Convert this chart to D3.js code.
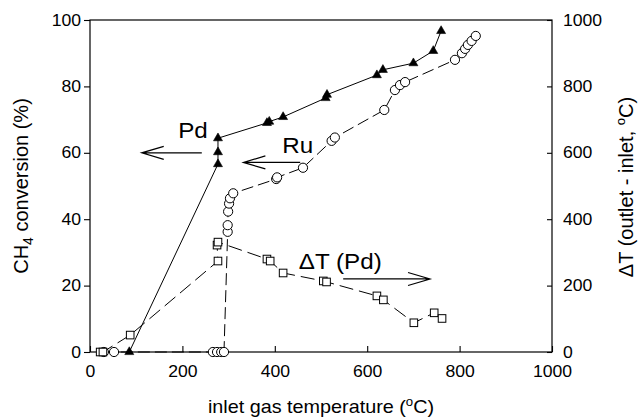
<!DOCTYPE html>
<html><head><meta charset="utf-8">
<script src="https://cdn.jsdelivr.net/npm/d3@7"></script>
<style>
html,body{margin:0;padding:0;background:#fff;}
svg{display:block;}
text{font-family:"Liberation Sans",Arial,Helvetica,sans-serif;fill:#000;}
</style></head>
<body>
<svg id="chart" width="639" height="418"></svg>
<script>
// ---- data (inlet temperature °C, CH4 conversion % / ΔT °C) ----
const pdTemp = [85, 277, 277, 277, 383, 388, 418, 510, 513, 621, 634, 700, 743, 760];
const pdConv = [0, 56.6, 60.2, 64.4, 69.0, 69.4, 70.8, 76.5, 77.5, 83.4, 85.0, 87.0, 90.7, 96.7];

const ruTemp = [30, 52, 266, 275, 284, 290, 298, 298, 299, 301, 303, 310, 403, 405, 461, 523, 530, 637, 660, 671, 682, 790, 805, 812, 818, 826, 835];
const ruConv = [0, 0, 0, 0, 0, 0, 36.2, 38.2, 42.3, 44.7, 46.3, 47.8, 52.1, 52.6, 55.5, 63.6, 64.6, 72.9, 78.9, 80.4, 81.3, 88.0, 90.0, 91.3, 92.5, 93.7, 95.2];

const dtTemp = [22, 28, 87, 277, 275, 277, 383, 390, 418, 505, 512, 621, 635, 701, 745, 762];
const dtVal  = [0, 0, 51, 274, 322, 331, 280, 274, 238, 214, 211, 169, 157, 88, 118, 101];

const xTicks = [0, 200, 400, 600, 800, 1000];
const yTicks = [0, 20, 40, 60, 80, 100];
const yRightTicks = [0, 200, 400, 600, 800, 1000];

// annotation labels and arrows (data units: temperature, conversion %)
const labelText = ["Pd", "Ru", "ΔT (Pd)"];
const labelTemp = [191, 416, 452];
const labelConv = [64.4, 59.8, 24.9];
const arrowFromTemp = [242, 455, 548];
const arrowToTemp   = [112, 332, 736];
const arrowConv     = [60, 57.1, 22];

// ---- layout ----
const svg = d3.select("#chart");
const L = 90, R = 552, T = 20, B = 352;
const SX = 1.1;
const x = d3.scaleLinear().domain([0, 1000]).range([L, R]);
const y = d3.scaleLinear().domain([0, 100]).range([B, T]);
const yR = d3.scaleLinear().domain([0, 1000]).range([B, T]);

// lines
const pdLine = d3.line().x(i => x(pdTemp[i])).y(i => y(pdConv[i]));
const ruLine = d3.line().x(i => x(ruTemp[i])).y(i => y(ruConv[i]));
const dtLine = d3.line().x(i => x(dtTemp[i])).y(i => yR(dtVal[i]));

svg.append("path").attr("d", ruLine(d3.range(ruTemp.length)))
  .attr("fill", "none").attr("stroke", "#000").attr("stroke-width", 1)
  .attr("stroke-dasharray", "12,5");
svg.append("path").attr("d", dtLine(d3.range(dtTemp.length)))
  .attr("fill", "none").attr("stroke", "#000").attr("stroke-width", 1)
  .attr("stroke-dasharray", "14,6");
svg.append("path").attr("d", pdLine(d3.range(pdTemp.length)))
  .attr("fill", "none").attr("stroke", "#000").attr("stroke-width", 1);

// frame
svg.append("rect").attr("x", L).attr("y", T).attr("width", R - L).attr("height", B - T)
  .attr("fill", "none").attr("stroke", "#000").attr("stroke-width", 1.2);

// axes
const ax = svg.append("g").attr("transform", `translate(0,${B})`)
  .call(d3.axisBottom(x).tickValues(xTicks).tickSize(-6).tickPadding(14).tickFormat(d3.format("d")));
const ay = svg.append("g").attr("transform", `translate(${L},0)`)
  .call(d3.axisLeft(y).tickValues(yTicks).tickSize(6).tickPadding(3).tickFormat(d3.format("d")));
const ayR = svg.append("g").attr("transform", `translate(${R},0)`)
  .call(d3.axisRight(yR).tickValues(yRightTicks).tickSize(-5).tickPadding(11).tickFormat(d3.format("d")));
[ax, ay, ayR].forEach(g => {
  g.select(".domain").remove();
  g.selectAll(".tick line").attr("stroke", "#000").attr("stroke-width", 1.1);
  g.selectAll(".tick text").attr("font-size", 16).attr("fill", "#000")
    .attr("font-family", "Liberation Sans, Arial, sans-serif");
});
ax.selectAll(".tick text").each(function () {
  const t = d3.select(this);
  const yy = +t.attr("y");
  t.attr("transform", `translate(0,${yy}) scale(${SX},1)`).attr("y", 0);
});
ay.selectAll(".tick text").each(function () {
  const t = d3.select(this);
  const xx = +t.attr("x");
  t.attr("transform", `translate(${xx},0) scale(${SX},1)`).attr("x", 0);
});
ayR.selectAll(".tick text").each(function () {
  const t = d3.select(this);
  const xx = +t.attr("x");
  t.attr("transform", `translate(${xx},0) scale(${SX},1)`).attr("x", 0);
});

// markers
svg.append("g").selectAll("circle").data(d3.range(ruTemp.length)).join("circle")
  .attr("cx", i => x(ruTemp[i])).attr("cy", i => y(ruConv[i])).attr("r", 4.6)
  .attr("fill", "#fff").attr("stroke", "#000").attr("stroke-width", 1);
const sq = 7.6;
svg.append("g").selectAll("rect").data(d3.range(dtTemp.length)).join("rect")
  .attr("x", i => x(dtTemp[i]) - sq / 2).attr("y", i => yR(dtVal[i]) - sq / 2)
  .attr("width", sq).attr("height", sq)
  .attr("fill", "#fff").attr("stroke", "#000").attr("stroke-width", 1);
const ts = 9, th = ts * Math.sqrt(3) / 2;
const triPath = `M0,${-th * 2 / 3}L${ts / 2},${th / 3}L${-ts / 2},${th / 3}Z`;
svg.append("g").selectAll("path").data(d3.range(pdTemp.length)).join("path")
  .attr("d", triPath)
  .attr("transform", i => `translate(${x(pdTemp[i])},${y(pdConv[i])})`)
  .attr("fill", "#000").attr("stroke", "#000").attr("stroke-width", 0.6);

// annotations
labelText.forEach((s, i) => {
  svg.append("text")
    .attr("transform", `translate(${x(labelTemp[i])},${y(labelConv[i])}) scale(${SX},1)`)
    .attr("font-size", 22).text(s);
});
arrowFromTemp.forEach((f, i) => {
  const x0 = x(f), x1 = x(arrowToTemp[i]), yy = y(arrowConv[i]);
  const dir = x1 > x0 ? 1 : -1;
  const hl = 22, hw = 6.5;
  svg.append("path")
    .attr("d", `M${x0},${yy}L${x1},${yy}M${x1 - dir * hl},${yy - hw}L${x1},${yy}L${x1 - dir * hl},${yy + hw}`)
    .attr("fill", "none").attr("stroke", "#000").attr("stroke-width", 1.2);
});

// axis titles
const xt = svg.append("text")
  .attr("transform", `translate(${(L + R) / 2},413) scale(${SX},1)`)
  .attr("text-anchor", "middle").attr("font-size", 18);
xt.append("tspan").text("inlet gas temperature (");
xt.append("tspan").attr("font-size", 12).attr("dy", -7).text("o");
xt.append("tspan").attr("dy", 7).text("C)");

const yt = svg.append("text")
  .attr("transform", `translate(28,${(T + B) / 2}) rotate(-90)`)
  .attr("text-anchor", "middle").attr("font-size", 20);
yt.append("tspan").text("CH");
yt.append("tspan").attr("font-size", 14).attr("dy", 5).text("4");
yt.append("tspan").attr("dy", -5).text(" conversion (%)");

const yrt = svg.append("text")
  .attr("transform", `translate(633,${(T + B) / 2 + 1}) rotate(-90)`)
  .attr("text-anchor", "middle").attr("font-size", 20);
yrt.append("tspan").text("ΔT (outlet - inlet, ");
yrt.append("tspan").attr("font-size", 13).attr("dy", -8).text("o");
yrt.append("tspan").attr("dy", 8).text("C)");
</script>
</body></html>
